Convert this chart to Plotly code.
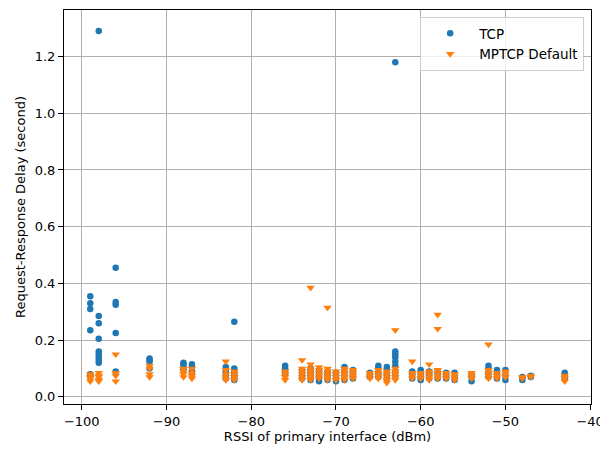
import plotly.graph_objects as go

# RSSI columns (dBm) and the request-response delays (s) observed at each
tcp_rssi = [-99, -98, -96, -92, -88, -87, -83, -82, -76, -74, -73, -72, -71, -70,
            -69, -68, -66, -65, -64, -63, -61, -60, -59, -58, -57, -56, -54, -52,
            -51, -50, -48, -47, -43]
tcp_delay = [
    [0.355, 0.33, 0.31, 0.235, 0.08, 0.07],
    [1.29, 0.285, 0.26, 0.205, 0.16, 0.15, 0.14, 0.13, 0.12],
    [0.455, 0.335, 0.325, 0.225, 0.09],
    [0.135, 0.13, 0.125, 0.1],
    [0.12, 0.115, 0.105, 0.095],
    [0.115, 0.105, 0.09, 0.08],
    [0.105, 0.095, 0.085, 0.075, 0.065],
    [0.265, 0.1, 0.09, 0.08, 0.07, 0.06],
    [0.11, 0.1, 0.09, 0.08],
    [0.095, 0.085, 0.075, 0.065],
    [0.1, 0.09, 0.08, 0.07, 0.06],
    [0.095, 0.085, 0.075, 0.065, 0.055],
    [0.09, 0.08, 0.07, 0.06],
    [0.085, 0.075, 0.065, 0.055],
    [0.105, 0.09, 0.075, 0.06],
    [0.095, 0.085, 0.075, 0.065],
    [0.085, 0.075, 0.07],
    [0.11, 0.1, 0.085, 0.07],
    [0.105, 0.095, 0.08, 0.065],
    [1.18, 0.16, 0.15, 0.14, 0.125, 0.11, 0.09, 0.075],
    [0.09, 0.08, 0.065],
    [0.095, 0.085, 0.07, 0.06],
    [0.09, 0.08, 0.065],
    [0.09, 0.08, 0.065],
    [0.085, 0.075, 0.065],
    [0.085, 0.07, 0.06],
    [0.08, 0.07, 0.055],
    [0.11, 0.1, 0.085, 0.07],
    [0.095, 0.08, 0.065],
    [0.095, 0.075, 0.06],
    [0.07, 0.06],
    [0.075, 0.07],
    [0.085, 0.075, 0.065],
]

mptcp_rssi = [-99, -98, -96, -92, -88, -87, -83, -82, -76, -74, -73, -72, -71, -70,
              -69, -68, -66, -65, -64, -63, -61, -60, -59, -58, -57, -56, -54, -52,
              -51, -50, -48, -47, -43]
mptcp_delay = [
    [0.08, 0.07, 0.065, 0.055],
    [0.085, 0.075, 0.07, 0.06, 0.055],
    [0.15, 0.085, 0.075, 0.055],
    [0.11, 0.1, 0.08, 0.07],
    [0.1, 0.09, 0.08, 0.07],
    [0.1, 0.085, 0.075, 0.065],
    [0.125, 0.095, 0.08, 0.07, 0.06],
    [0.09, 0.08, 0.07, 0.06],
    [0.09, 0.08, 0.07, 0.06],
    [0.13, 0.1, 0.09, 0.08, 0.07, 0.06],
    [0.385, 0.115, 0.1, 0.09, 0.08, 0.07, 0.06],
    [0.105, 0.095, 0.085, 0.075, 0.065],
    [0.315, 0.1, 0.09, 0.08, 0.07, 0.06],
    [0.09, 0.08, 0.07, 0.06],
    [0.1, 0.09, 0.08, 0.07, 0.06],
    [0.095, 0.085, 0.075, 0.065],
    [0.085, 0.075, 0.065],
    [0.095, 0.085, 0.075, 0.065],
    [0.09, 0.08, 0.07, 0.06, 0.05],
    [0.235, 0.1, 0.09, 0.08, 0.07, 0.06],
    [0.125, 0.085, 0.075, 0.065],
    [0.085, 0.075, 0.065],
    [0.115, 0.09, 0.08, 0.07, 0.06],
    [0.29, 0.24, 0.095, 0.085, 0.075, 0.065],
    [0.085, 0.075, 0.065],
    [0.08, 0.07, 0.06],
    [0.085, 0.075, 0.065],
    [0.185, 0.095, 0.085, 0.075, 0.065],
    [0.085, 0.075, 0.065],
    [0.09, 0.08, 0.07],
    [0.07, 0.065],
    [0.075, 0.07],
    [0.075, 0.065, 0.055],
]

x_ticks = [-100, -90, -80, -70, -60, -50, -40]
y_ticks = [0.0, 0.2, 0.4, 0.6, 0.8, 1.0, 1.2]


def expand(rssi, delays):
    xs, ys = [], []
    for r, ds in zip(rssi, delays):
        for d in ds:
            xs.append(r)
            ys.append(d)
    return xs, ys


tx, ty = expand(tcp_rssi, tcp_delay)
mx, my = expand(mptcp_rssi, mptcp_delay)

fig = go.Figure()
fig.add_trace(go.Scatter(
    x=tx, y=ty, mode="markers", name="TCP",
    marker=dict(symbol="circle", size=6.5, color="#1f77b4", line=dict(width=0)),
))
fig.add_trace(go.Scatter(
    x=mx, y=my, mode="markers", name="MPTCP Default",
    marker=dict(symbol="triangle-down", size=7.5, color="#ff7f0e", line=dict(width=0)),
))

axis_common = dict(
    showgrid=True, gridcolor="#b0b0b0", gridwidth=0.8,
    showline=True, linecolor="black", linewidth=1, mirror=True,
    ticks="outside", ticklen=5, tickcolor="black", tickwidth=1,
    zeroline=False, automargin=False, ticklabeloverflow="allow",
    tickfont=dict(family="DejaVu Sans", size=13, color="black"),
)

# the page body keeps an 8px margin, so the figure is sized to fit inside it
fig.update_layout(
    width=600, height=444,
    margin=dict(l=56, r=17, t=2, b=48),
    paper_bgcolor="white", plot_bgcolor="white",
    font=dict(family="DejaVu Sans", size=13, color="black"),
    xaxis=dict(
        range=[-102.1, -39.9], tickvals=x_ticks,
        title=dict(text="RSSI of primary interface (dBm)", standoff=4,
                   font=dict(family="DejaVu Sans", size=13)),
        **axis_common,
    ),
    yaxis=dict(
        range=[-0.025, 1.364], tickvals=y_ticks, tickformat=".1f",
        title=dict(text="Request-Response Delay (second)", standoff=6,
                   font=dict(family="DejaVu Sans", size=13)),
        **axis_common,
    ),
    legend=dict(
        x=0.987, y=0.982, xanchor="right", yanchor="top",
        bgcolor="rgba(255,255,255,0.8)", bordercolor="#cccccc", borderwidth=1,
        font=dict(family="DejaVu Sans", size=13.5),
        tracegroupgap=0, itemwidth=48,
    ),
    showlegend=True,
)

fig.write_html("out.html")
